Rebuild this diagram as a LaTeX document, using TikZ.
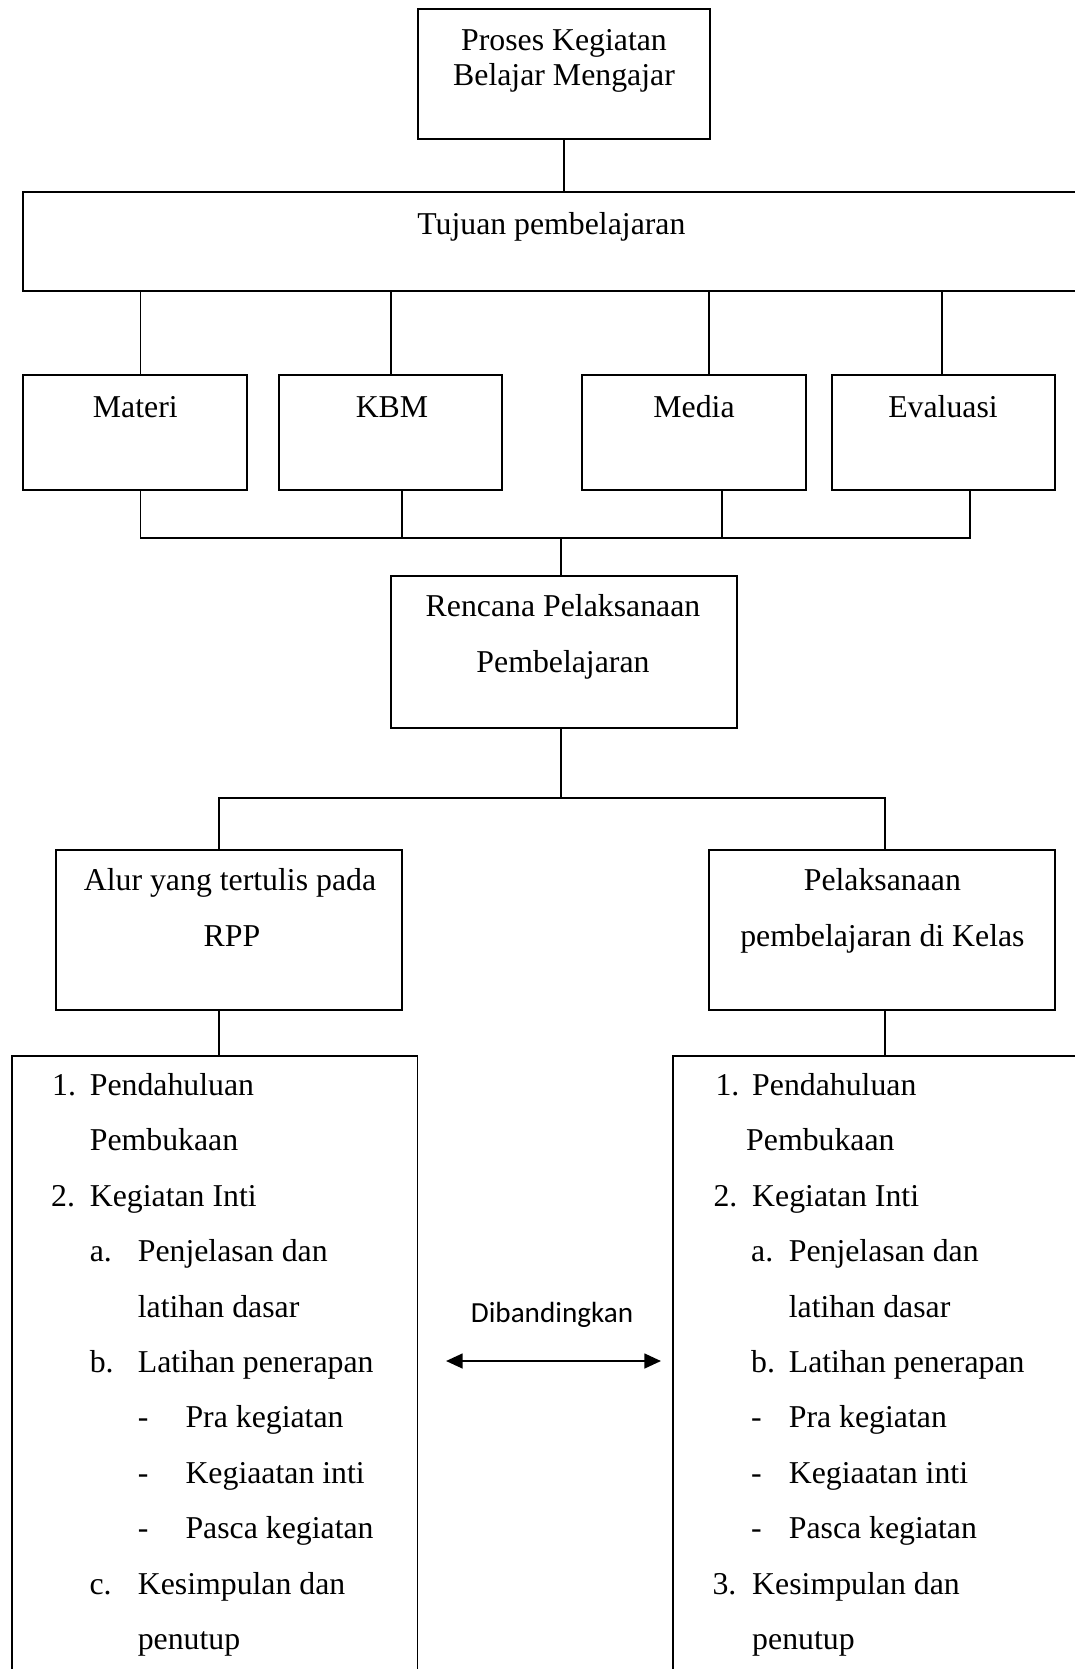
\documentclass[tikz,border=0pt]{standalone}
\usepackage{fontspec}
\setmainfont{Liberation Serif}
\newfontfamily\calibrifont{Carlito}
\usepackage{tikz}
\usetikzlibrary{arrows.meta, fit}

\tikzset{
    box/.style={draw, line width=0.75pt, inner sep=0pt},
    txt/.style={inner sep=0pt, font=\fontsize{12}{14}\selectfont},
    link/.style={line width=0.75pt},
    cmparrow/.style={line width=0.8pt,
        {Triangle[length=6.3pt,width=5.6pt]}-{Triangle[length=6.3pt,width=5.6pt]}}
}

\begin{document}
\begin{tikzpicture}[x=0.3774pt, y=-0.3774pt]
    \useasboundingbox (0,0) rectangle (1075,1669);
    \clip (0,0) rectangle (1075,1669);
    % boxes
    \node[box, fit={(418.3,9.3) (710,139.3)}]     (proses)   {};
    \node[box, fit={(23.4,191.6) (1090,290.6)}]   (tujuan)   {};
    \node[box, fit={(23.4,375) (247,490)}]        (materi)   {};
    \node[box, fit={(279,375) (502,490)}]         (kbm)      {};
    \node[box, fit={(582,375) (806,490)}]         (media)    {};
    \node[box, fit={(832,375) (1055,490)}]        (evaluasi) {};
    \node[box, fit={(390.6,576) (736.6,728)}]     (rencana)  {};
    \node[box, fit={(56.4,849.5) (402.3,1010)}]   (alur)     {};
    \node[box, fit={(709,849.5) (1055,1010)}]     (pelaks)   {};
    \node[box, fit={(11.7,1056) (417.5,1690)}]    (listL)    {};
    \node[box, fit={(673,1056) (1090,1690)}]      (listR)    {};
    % box texts
    \node[txt, anchor=base] (prosesA)   at (564,50)    {Proses Kegiatan};
    \node[txt, anchor=base] (prosesB)   at (564,85)    {Belajar Mengajar};
    \node[txt, anchor=base] (tujuanT)   at (551.4,234) {Tujuan pembelajaran};
    \node[txt, anchor=base] (materiT)   at (135.3,417) {Materi};
    \node[txt, anchor=base] (kbmT)      at (392,417)   {KBM};
    \node[txt, anchor=base] (mediaT)    at (694,417)   {Media};
    \node[txt, anchor=base] (evaluasiT) at (943,417)   {Evaluasi};
    \node[txt, anchor=base] (rencanaA)  at (563,616)   {Rencana Pelaksanaan};
    \node[txt, anchor=base] (rencanaB)  at (563,672)   {Pembelajaran};
    \node[txt, anchor=base] (alurA)     at (230,890)   {Alur yang tertulis pada};
    \node[txt, anchor=base] (alurB)     at (232,946)   {RPP};
    \node[txt, anchor=base] (pelaksA)   at (882.4,890) {Pelaksanaan};
    \node[txt, anchor=base] (pelaksB)   at (882.4,946) {pembelajaran di Kelas};
    % connectors
    \draw[link] (proses.south) -- (proses.south |- tujuan.north);
    \foreach \b/\x in {materi/140.5, kbm/390.6, media/709, evaluasi/942}
        \draw[link] (\x,0 |- tujuan.south) -- (\x,0 |- \b.north);
    \coordinate (busB) at (561,537.5);
    \draw[link] (140.5,0 |- materi.south) -- (140.5,0 |- busB)
        -- (970,0 |- busB) -- (970,0 |- evaluasi.south);
    \foreach \b/\x in {kbm/402, media/721.5}
        \draw[link] (\x,0 |- \b.south) -- (\x,0 |- busB);
    \draw[link] (busB) -- (busB |- rencana.north);
    \coordinate (splitB) at (561,798);
    \draw[link] (splitB |- rencana.south) -- (splitB);
    \draw[link] (219,0 |- alur.north) -- (219,0 |- splitB)
        -- (884.5,0 |- splitB) -- (884.5,0 |- pelaks.north);
    \draw[link] (219,0 |- alur.south) -- (219,0 |- listL.north);
    \draw[link] (884.5,0 |- pelaks.south) -- (884.5,0 |- listR.north);
    % left list
    \foreach \l/\x/\t [count=\k] in {0/51.7/1., 0/89.3/Pendahuluan, 1/89.3/Pembukaan,
        2/50.7/2., 2/89.3/Kegiatan Inti, 3/89.3/a., 3/137.3/Penjelasan dan,
        4/137.3/latihan dasar, 5/89.3/b., 5/137.3/Latihan penerapan,
        6/137.3/-, 6/185/Pra kegiatan, 7/137.3/-, 7/185/Kegiaatan inti,
        8/137.3/-, 8/185/Pasca kegiatan, 9/89/c., 9/137.3/Kesimpulan dan,
        10/137.3/penutup}
        \node[txt, anchor=base west] (lft\k) at (\x,1095.5+\l*55.4) {\t};
    % right list
    \foreach \l/\x/\t [count=\k] in {0/715/1., 0/751.7/Pendahuluan, 1/745.7/Pembukaan,
        2/713/2., 2/751.7/Kegiatan Inti, 3/750.7/a., 3/788.3/Penjelasan dan,
        4/788.3/latihan dasar, 5/750.7/b., 5/788.3/Latihan penerapan,
        6/750.7/-, 6/788.3/Pra kegiatan, 7/750.7/-, 7/788.3/Kegiaatan inti,
        8/750.7/-, 8/788.3/Pasca kegiatan, 9/712/3., 9/751.7/Kesimpulan dan,
        10/751.7/penutup}
        \node[txt, anchor=base west] (rgt\k) at (\x,1095.5+\l*55.4) {\t};
    % comparison
    \node[inner sep=0pt, font=\calibrifont\fontsize{11}{13}\selectfont, anchor=base]
        (cmp) at (552,1322.7) {Dibandingkan};
    \coordinate (cmpL) at (446,1361);
    \coordinate (cmpR) at (661,1361);
    \draw[cmparrow] (cmpL) -- (cmpR);
\end{tikzpicture}
\end{document}
